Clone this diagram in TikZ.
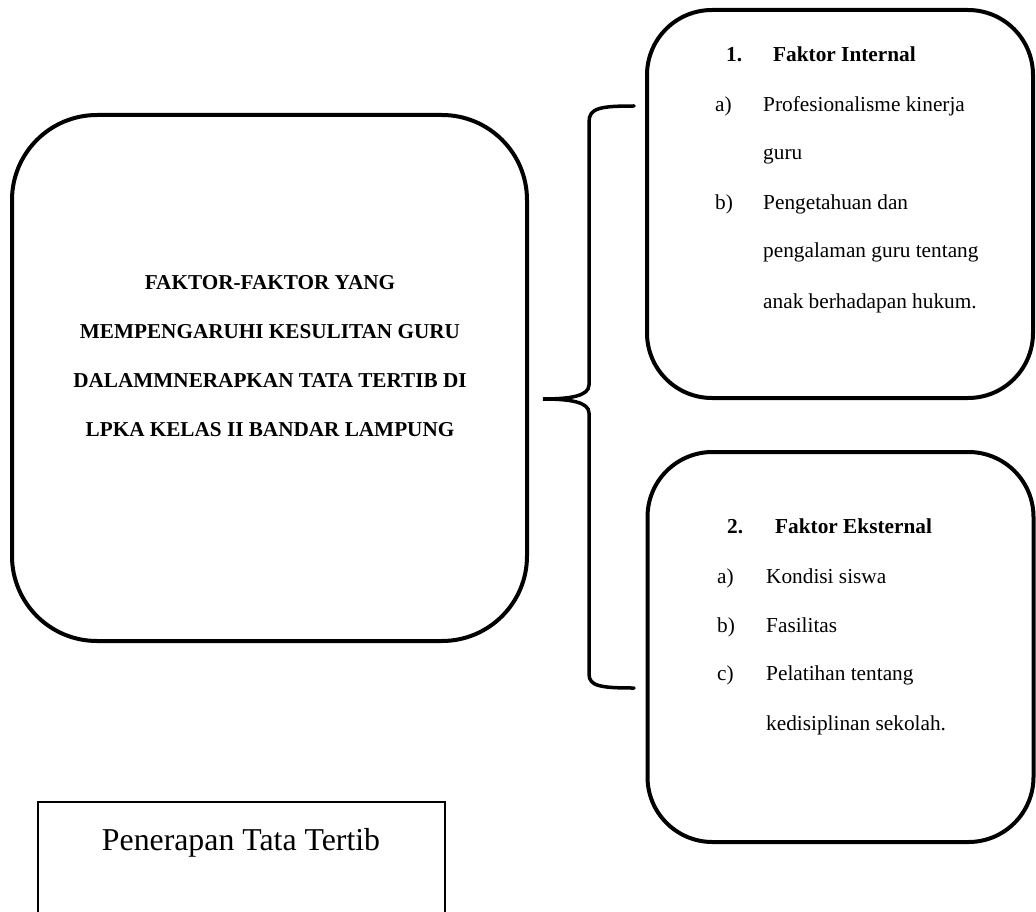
\documentclass[tikz,border=0pt]{standalone}
\usepackage{fontspec}
\setmainfont{Liberation Serif}[BoldFont={Liberation Serif Bold}]
\tikzset{
  bigbox/.style={draw, line width=4pt, rounded corners=#1, inner sep=0pt},
  ttl/.style={font=\fontsize{21.2}{24}\selectfont\bfseries, anchor=base},
  itm/.style={font=\fontsize{21.3}{24}\selectfont, anchor=base west, inner sep=0pt},
  hd/.style={font=\fontsize{21.3}{24}\selectfont\bfseries, anchor=base west, inner sep=0pt},
  bracepath/.style={line width=3.5pt, line cap=round}
}
\begin{document}
\begin{tikzpicture}[x=1pt,y=-1pt]
\useasboundingbox (0,0) rectangle (1036,912);
% main box
\node[bigbox=85pt, minimum width=515pt, minimum height=526pt] (main) at (269.5,378) {};
\node[ttl] (m1) at (270,289) {FAKTOR-FAKTOR YANG};
\node[ttl] (m2) at (270,338) {MEMPENGARUHI KESULITAN GURU};
\node[ttl] (m3) at (270,387) {DALAMMNERAPKAN TATA TERTIB DI};
\node[ttl] (m4) at (270,436) {LPKA KELAS II BANDAR LAMPUNG};
% internal box
\node[bigbox=65pt, minimum width=386pt, minimum height=388pt] (int) at (840,204) {};
\node[hd] (i0n) at (726,62) {1.};
\node[hd] (i0) at (773,62) {Faktor Internal};
\node[itm] (ian) at (715,112) {a)};
\node[itm] (ia) at (763,112) {Profesionalisme kinerja};
\node[itm] (ia2) at (763,160) {guru};
\node[itm] (ibn) at (715,210) {b)};
\node[itm] (ib) at (763,210) {Pengetahuan dan};
\node[itm] (ib2) at (763,258) {pengalaman guru tentang};
\node[itm] (ib3) at (763,308) {anak berhadapan hukum.};
% external box
\node[bigbox=65pt, minimum width=386pt, minimum height=390pt] (ext) at (840.5,647) {};
\node[hd] (e0n) at (727,533) {2.};
\node[hd] (e0) at (775,533) {Faktor Eksternal};
\node[itm] (ean) at (717,583) {a)};
\node[itm] (ea) at (766,583) {Kondisi siswa};
\node[itm] (ebn) at (717,632) {b)};
\node[itm] (eb) at (766,632) {Fasilitas};
\node[itm] (ecn) at (717,680) {c)};
\node[itm] (ec) at (766,680) {Pelatihan tentang};
\node[itm] (ec2) at (766,730) {kedisiplinan sekolah.};
% brace
\coordinate (bt) at (634,106);
\coordinate (btip) at (543,399);
\coordinate (bb) at (634,688);
\draw[bracepath] (bt) .. controls (600,106) and (589,108) .. (589,122) -- (589,385)
  .. controls (589,396) and (570,399) .. (btip)
  .. controls (570,399) and (589,402) .. (589,413) -- (589,674)
  .. controls (589,686) and (600,688) .. (bb);
% bottom box
\draw[line width=1.5pt] (38,930) |- (445,802) -- (445,930);
\node[font=\fontsize{31.8}{36}\selectfont, anchor=base] (pen) at (241,850) {Penerapan Tata Tertib};
\end{tikzpicture}
\end{document}
